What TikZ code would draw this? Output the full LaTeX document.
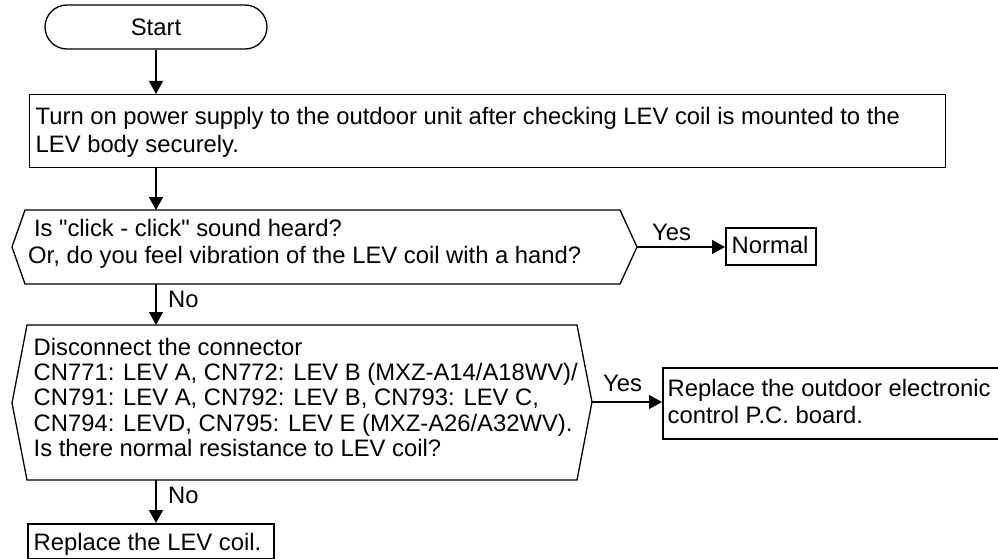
\documentclass[tikz,border=0pt]{standalone}
\usepackage{fontspec}
\setmainfont{Liberation Sans}
\usetikzlibrary{arrows.meta}
\begin{document}
\begin{tikzpicture}[x=1pt,y=-1pt,
  font=\fontsize{23.8}{27}\selectfont,
  startbox/.style={draw, line width=1.3pt, rounded corners=22pt, minimum width=222pt, minimum height=44pt, inner sep=0pt},
  boxthin/.style={draw, line width=1.4pt, inner sep=0pt, anchor=north west},
  boxthick/.style={draw, line width=2.3pt, inner sep=0pt, anchor=north west},
  txt/.style={inner sep=0pt, anchor=base west, align=left},
  arr/.style={line width=1.3pt, -{Triangle[width=14pt,length=13pt]}},
  decision/.style={draw, line width=1.3pt, line join=miter}]
\useasboundingbox (0,0) rectangle (998,559);

% Start
\node[startbox] (start) at (156,27) {Start};

% Box 1 (text anchored at the baseline of its last line)
\node[boxthin, minimum width=916pt, minimum height=73pt] (b1) at (29,94) {};
\node[txt, font=\fontsize{23.8}{27.7}\selectfont] (b1t) at (35.5,152.7)
  {Turn on power supply to the outdoor unit after checking LEV coil is mounted to the\\LEV body securely.};

% Decision 1
\coordinate (q1n) at (156,210);
\coordinate (q1s) at (156,284);
\coordinate (q1e) at (637,247);
\draw[decision] (25,210) -- (620,210) -- (q1e) -- (620,284) -- (25,284) -- (12,247) -- cycle;
\node[txt, font=\fontsize{23.8}{27}\selectfont] (q1t) at (28,263)
  {\hspace*{5.8pt}Is \textquotedbl click - click\textquotedbl{} sound heard?\\Or, do you feel vibration of the LEV coil with a hand?};

% Normal
\node[boxthick, minimum width=90pt, minimum height=37pt] (normal) at (725,227) {};
\node[inner sep=0pt, anchor=base] (normalt) at (770,253.3) {Normal};

% Decision 2
\coordinate (q2n) at (156,325);
\coordinate (q2s) at (156,480);
\coordinate (q2e) at (592,402);
\draw[decision] (27,325) -- (577,325) -- (q2e) -- (577,480) -- (27,480) -- (12,403) -- cycle;
\node[txt, font=\fontsize{23.8}{25.4}\selectfont] (q2t) at (33.5,456.6)
  {Disconnect the connector\\CN771: LEV A, CN772: LEV B (MXZ-A14/A18WV)/\\CN791: LEV A, CN792: LEV B, CN793: LEV C,\\CN794: LEVD, CN795: LEV E (MXZ-A26/A32WV).\\Is there normal resistance to LEV coil?};

% Box 3
\node[boxthick, minimum width=360pt, minimum height=71pt] (b3) at (662,367) {};
\node[txt, font=\fontsize{23.8}{27}\selectfont] (b3t) at (667.5,423)
  {Replace the outdoor electronic\\control P.C. board.};

% Box 4
\node[boxthick, minimum width=246pt, minimum height=35pt] (b4) at (27,523) {};
\node[txt] (b4t) at (33.5,550) {Replace the LEV coil.};

% Connectors
\draw[arr] (start.south) -- (start.south |- b1.north);
\draw[arr] (start.south |- b1.south) -- (q1n);
\draw[arr] (q1s) -- (q2n);
\draw[arr] (q2s) -- (q2s |- b4.north);
\draw[arr] (q1e) -- (q1e -| normal.west);
\draw[arr] (q2e) -- (q2e -| b3.west);

% Labels
\node[txt] (yes1) at (652,240.7) {Yes};
\node[txt] (no1) at (168,307) {No};
\node[txt] (yes2) at (603,391.7) {Yes};
\node[txt] (no2) at (168,503.3) {No};
\end{tikzpicture}
\end{document}
